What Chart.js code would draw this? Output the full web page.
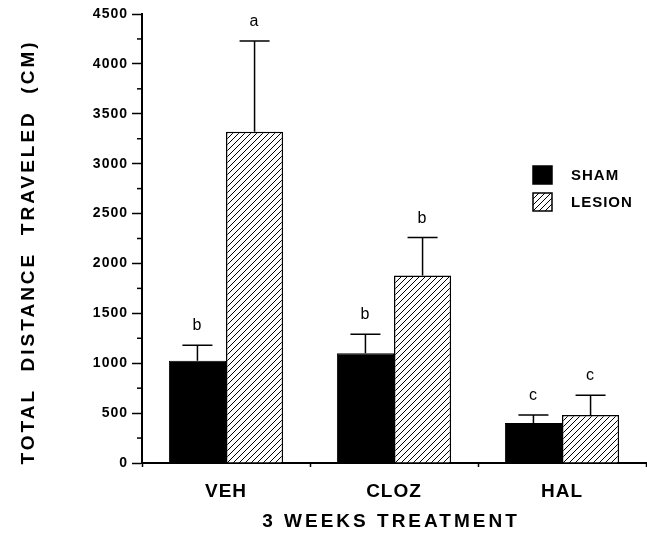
<!DOCTYPE html>
<html>
<head>
<meta charset="utf-8">
<script src="https://cdn.jsdelivr.net/npm/chart.js@4/dist/chart.umd.min.js"></script>
<style>
  body { margin: 0; background: #fff; }
  #wrap { width: 647px; height: 533px; position: relative; }
</style>
</head>
<body>
<div id="wrap"><canvas id="chart"></canvas></div>
<script>
// Data
const groups = ["VEH", "CLOZ", "HAL"];
const shamMean = [1025, 1100, 400];
const shamErr = [155, 190, 80];
const lesionMean = [3320, 1880, 480];
const lesionErr = [910, 380, 200];
const shamLetters = ["b", "b", "c"];
const lesionLetters = ["a", "b", "c"];
const yTicks = [0, 500, 1000, 1500, 2000, 2500, 3000, 3500, 4000, 4500];

const FONT = "'Liberation Sans', Arial, Helvetica, sans-serif";
Chart.defaults.font.family = FONT;
Chart.defaults.color = "#000";

// diagonal hatch for the lesion bars
function hatch() {
  const c = document.createElement("canvas");
  c.width = 6; c.height = 6;
  const g = c.getContext("2d");
  g.fillStyle = "#fff";
  g.fillRect(0, 0, 6, 6);
  g.strokeStyle = "#000";
  g.lineWidth = 1;
  g.beginPath();
  g.moveTo(0, 6); g.lineTo(6, 0);
  g.moveTo(-1, 1); g.lineTo(1, -1);
  g.moveTo(5, 7); g.lineTo(7, 5);
  g.stroke();
  return g.createPattern(c, "repeat");
}
const hatchFill = hatch();

const errors = [shamErr, lesionErr];
const letters = [shamLetters, lesionLetters];

// error bars, significance letters, minor ticks, titles and legend
const extras = {
  id: "extras",
  beforeDraw(chart) {
    chart.ctx.letterSpacing = "1px";
  },
  afterDatasetsDraw(chart) {
    const ctx = chart.ctx;
    const y = chart.scales.y;
    ctx.save();
    ctx.strokeStyle = "#000";
    ctx.lineWidth = 1.5;
    chart.data.datasets.forEach((ds, i) => {
      chart.getDatasetMeta(i).data.forEach((bar, j) => {
        const top = y.getPixelForValue(ds.data[j] + errors[i][j]);
        ctx.beginPath();
        ctx.moveTo(bar.x, bar.y);
        ctx.lineTo(bar.x, top);
        ctx.moveTo(bar.x - 15, top);
        ctx.lineTo(bar.x + 15, top);
        ctx.stroke();
        ctx.fillStyle = "#000";
        ctx.font = "16px " + FONT;
        ctx.textAlign = "center";
        ctx.textBaseline = "alphabetic";
        ctx.fillText(letters[i][j], bar.x, top - 15);
      });
    });
    ctx.restore();
  },
  afterDraw(chart) {
    const ctx = chart.ctx;
    const y = chart.scales.y;
    const area = chart.chartArea;
    ctx.save();
    // minor ticks on the y axis
    ctx.strokeStyle = "#000";
    ctx.lineWidth = 1.5;
    for (let k = 0; k < yTicks.length - 1; k++) {
      const py = y.getPixelForValue((yTicks[k] + yTicks[k + 1]) / 2);
      ctx.beginPath();
      ctx.moveTo(area.left - 5, py);
      ctx.lineTo(area.left, py);
      ctx.stroke();
    }
    ctx.fillStyle = "#000";
    ctx.font = "bold 19px " + FONT;
    ctx.letterSpacing = "3px";
    ctx.textAlign = "center";
    ctx.textBaseline = "middle";
    ctx.fillText("3 WEEKS TREATMENT", (area.left + area.right) / 2 - 3, 522);
    ctx.save();
    ctx.translate(29, 252);
    ctx.rotate(-Math.PI / 2);
    ctx.font = "bold 19px " + FONT;
    ctx.letterSpacing = "3px";
    ctx.fillText("TOTAL  DISTANCE  TRAVELED  (CM)", 0, 0);
    ctx.restore();
    // legend
    ctx.letterSpacing = "1px";
    ctx.font = "bold 15px " + FONT;
    ctx.textAlign = "left";
    chart.data.datasets.forEach((ds, i) => {
      const by = 166 + i * 27;
      ctx.fillStyle = ds.backgroundColor;
      ctx.fillRect(533, by, 19, 18);
      ctx.lineWidth = 1.5;
      ctx.strokeRect(533, by, 19, 18);
      ctx.fillStyle = "#000";
      ctx.fillText(ds.label, 571, by + 10);
    });
    ctx.restore();
  }
};

new Chart(document.getElementById("chart"), {
  type: "bar",
  data: {
    labels: groups,
    datasets: [
      { label: "SHAM", data: shamMean, backgroundColor: "#000", borderColor: "#000", borderWidth: 1 },
      { label: "LESION", data: lesionMean, backgroundColor: hatchFill, borderColor: "#000", borderWidth: 1.5 }
    ]
  },
  options: {
    responsive: true,
    maintainAspectRatio: false,
    animation: false,
    categoryPercentage: 0.68,
    barPercentage: 1.0,
    layout: { padding: { top: 14, right: 1, left: 0, bottom: 0 } },
    plugins: { legend: { display: false }, tooltip: { enabled: false } },
    scales: {
      x: {
        grid: { drawOnChartArea: false, tickLength: 4, tickColor: "#000", tickWidth: 1.5 },
        border: { color: "#000", width: 2 },
        ticks: { font: { size: 19, weight: "bold" }, padding: 13 },
        afterFit(scale) { scale.height = 70; }
      },
      y: {
        min: 0,
        max: 4500,
        afterBuildTicks(scale) { scale.ticks = yTicks.map(v => ({ value: v })); },
        grid: { drawOnChartArea: false, tickLength: 10, tickColor: "#000", tickWidth: 1.5 },
        border: { color: "#000", width: 2 },
        ticks: { font: { size: 14, weight: "bold" }, padding: 4, callback: v => String(v) },
        afterFit(scale) { scale.width = 142; }
      }
    }
  },
  plugins: [extras]
});
</script>
</body>
</html>
